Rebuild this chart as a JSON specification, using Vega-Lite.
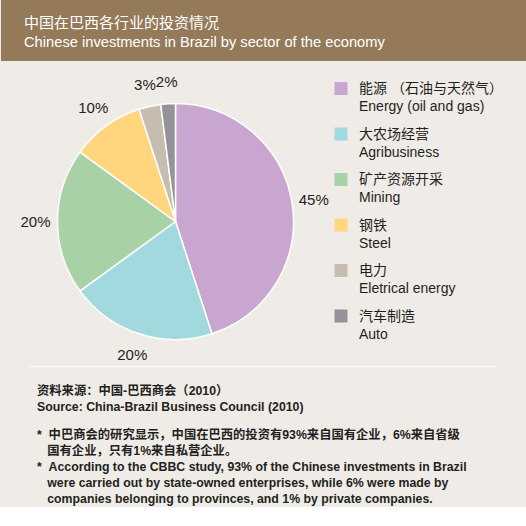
{
  "$schema": "https://vega.github.io/schema/vega-lite/v6.json",
  "background": "#EFECE7",
  "padding": 0,
  "spacing": 0,
  "config": {
    "view": {"stroke": null},
    "font": "Liberation Sans, Noto Sans CJK SC",
    "style": {"guide-label": {"lineHeight": 18}}
  },
  "vconcat": [
    {
      "width": 526,
      "height": 61,
      "data": {"values": [{"band": "header"}]},
      "mark": {"type": "rect", "color": "#957A5A"},
      "title": {
        "text": "中国在巴西各行业的投资情况",
        "subtitle": "Chinese investments in Brazil by sector of the economy",
        "orient": "top",
        "anchor": "start",
        "frame": "group",
        "offset": -50,
        "dx": 23,
        "color": "white",
        "subtitleColor": "white",
        "font": "Liberation Sans, Noto Sans CJK SC",
        "subtitleFont": "Liberation Sans, Noto Sans CJK SC",
        "fontSize": 15,
        "fontWeight": "normal",
        "subtitleFontSize": 14.7,
        "subtitlePadding": 4
      }
    },
    {
      "width": 349,
      "height": 287,
      "title": {"text": " ", "fontSize": 13, "offset": 0},
      "data": {
        "values": [
          {"sector": "能源 （石油与天然气）\nEnergy (oil and gas)", "share": 0.45},
          {"sector": "大农场经营\nAgribusiness", "share": 0.20},
          {"sector": "矿产资源开采\nMining", "share": 0.20},
          {"sector": "钢铁\nSteel", "share": 0.10},
          {"sector": "电力\nEletrical energy", "share": 0.03},
          {"sector": "汽车制造\nAuto", "share": 0.02}
        ]
      },
      "encoding": {
        "theta": {"field": "share", "type": "quantitative", "stack": true},
        "order": {"field": "share", "sort": "descending"}
      },
      "layer": [
        {
          "mark": {"type": "arc", "outerRadius": 118, "stroke": "white", "strokeWidth": 1.5},
          "encoding": {
            "color": {
              "field": "sector",
              "type": "nominal",
              "sort": null,
              "scale": {"range": ["#C9A6D0", "#A2D9DF", "#A8D1A8", "#FFD57D", "#C7BCB0", "#939399"]},
              "legend": {
                "orient": "none",
                "legendX": 333,
                "legendY": 75,
                "title": null,
                "symbolType": "M-1,0H1V2H-1Z",
                "symbolSize": 169,
                "symbolStrokeWidth": 0,
                "labelFont": "Liberation Sans, Noto Sans CJK SC",
                "labelFontSize": 14,
                "labelColor": "#231F20",
                "labelBaseline": "top",
                "labelOffset": 11,
                "labelLimit": 220,
                "rowPadding": 6.5,
                "labelExpr": "split(datum.label, '\\n')"
              }
            }
          }
        },
        {
          "mark": {"type": "text", "radius": 140, "fontSize": 15, "font": "Liberation Sans", "color": "#231F20"},
          "encoding": {
            "text": {"field": "share", "type": "quantitative", "format": ".0%"}
          }
        }
      ]
    },
    {
      "width": 495,
      "height": 1,
      "view": {"stroke": "white", "strokeWidth": 1, "strokeDash": [0, 28, 467, 2000]},
      "data": {"values": [{"note": "footer"}]},
      "mark": {"type": "rect", "opacity": 0},
      "title": {
        "text": ["资料来源：中国-巴西商会（2010）", "Source: China-Brazil Business Council (2010)"],
        "subtitle": [
          "*\u00a0\u00a0中巴商会的研究显示，中国在巴西的投资有93%来自国有企业，6%来自省级",
          "\u200b\u00a0\u00a0\u00a0国有企业，只有1%来自私营企业。",
          "*\u00a0\u00a0According to the CBBC study, 93% of the Chinese investments in Brazil",
          "\u200b\u00a0\u00a0\u00a0were carried out by state-owned enterprises, while 6% were made by",
          "\u200b\u00a0\u00a0\u00a0companies belonging to provinces, and 1% by private companies."
        ],
        "orient": "bottom",
        "anchor": "start",
        "frame": "group",
        "offset": 18,
        "dx": 36,
        "color": "#231F20",
        "subtitleColor": "#231F20",
        "font": "Liberation Sans, Noto Sans CJK SC",
        "subtitleFont": "Liberation Sans, Noto Sans CJK SC",
        "fontSize": 12.3,
        "fontWeight": "bold",
        "subtitleFontSize": 12.3,
        "subtitleFontWeight": "bold",
        "lineHeight": 16,
        "subtitleLineHeight": 16,
        "subtitlePadding": 16
      }
    }
  ]
}
